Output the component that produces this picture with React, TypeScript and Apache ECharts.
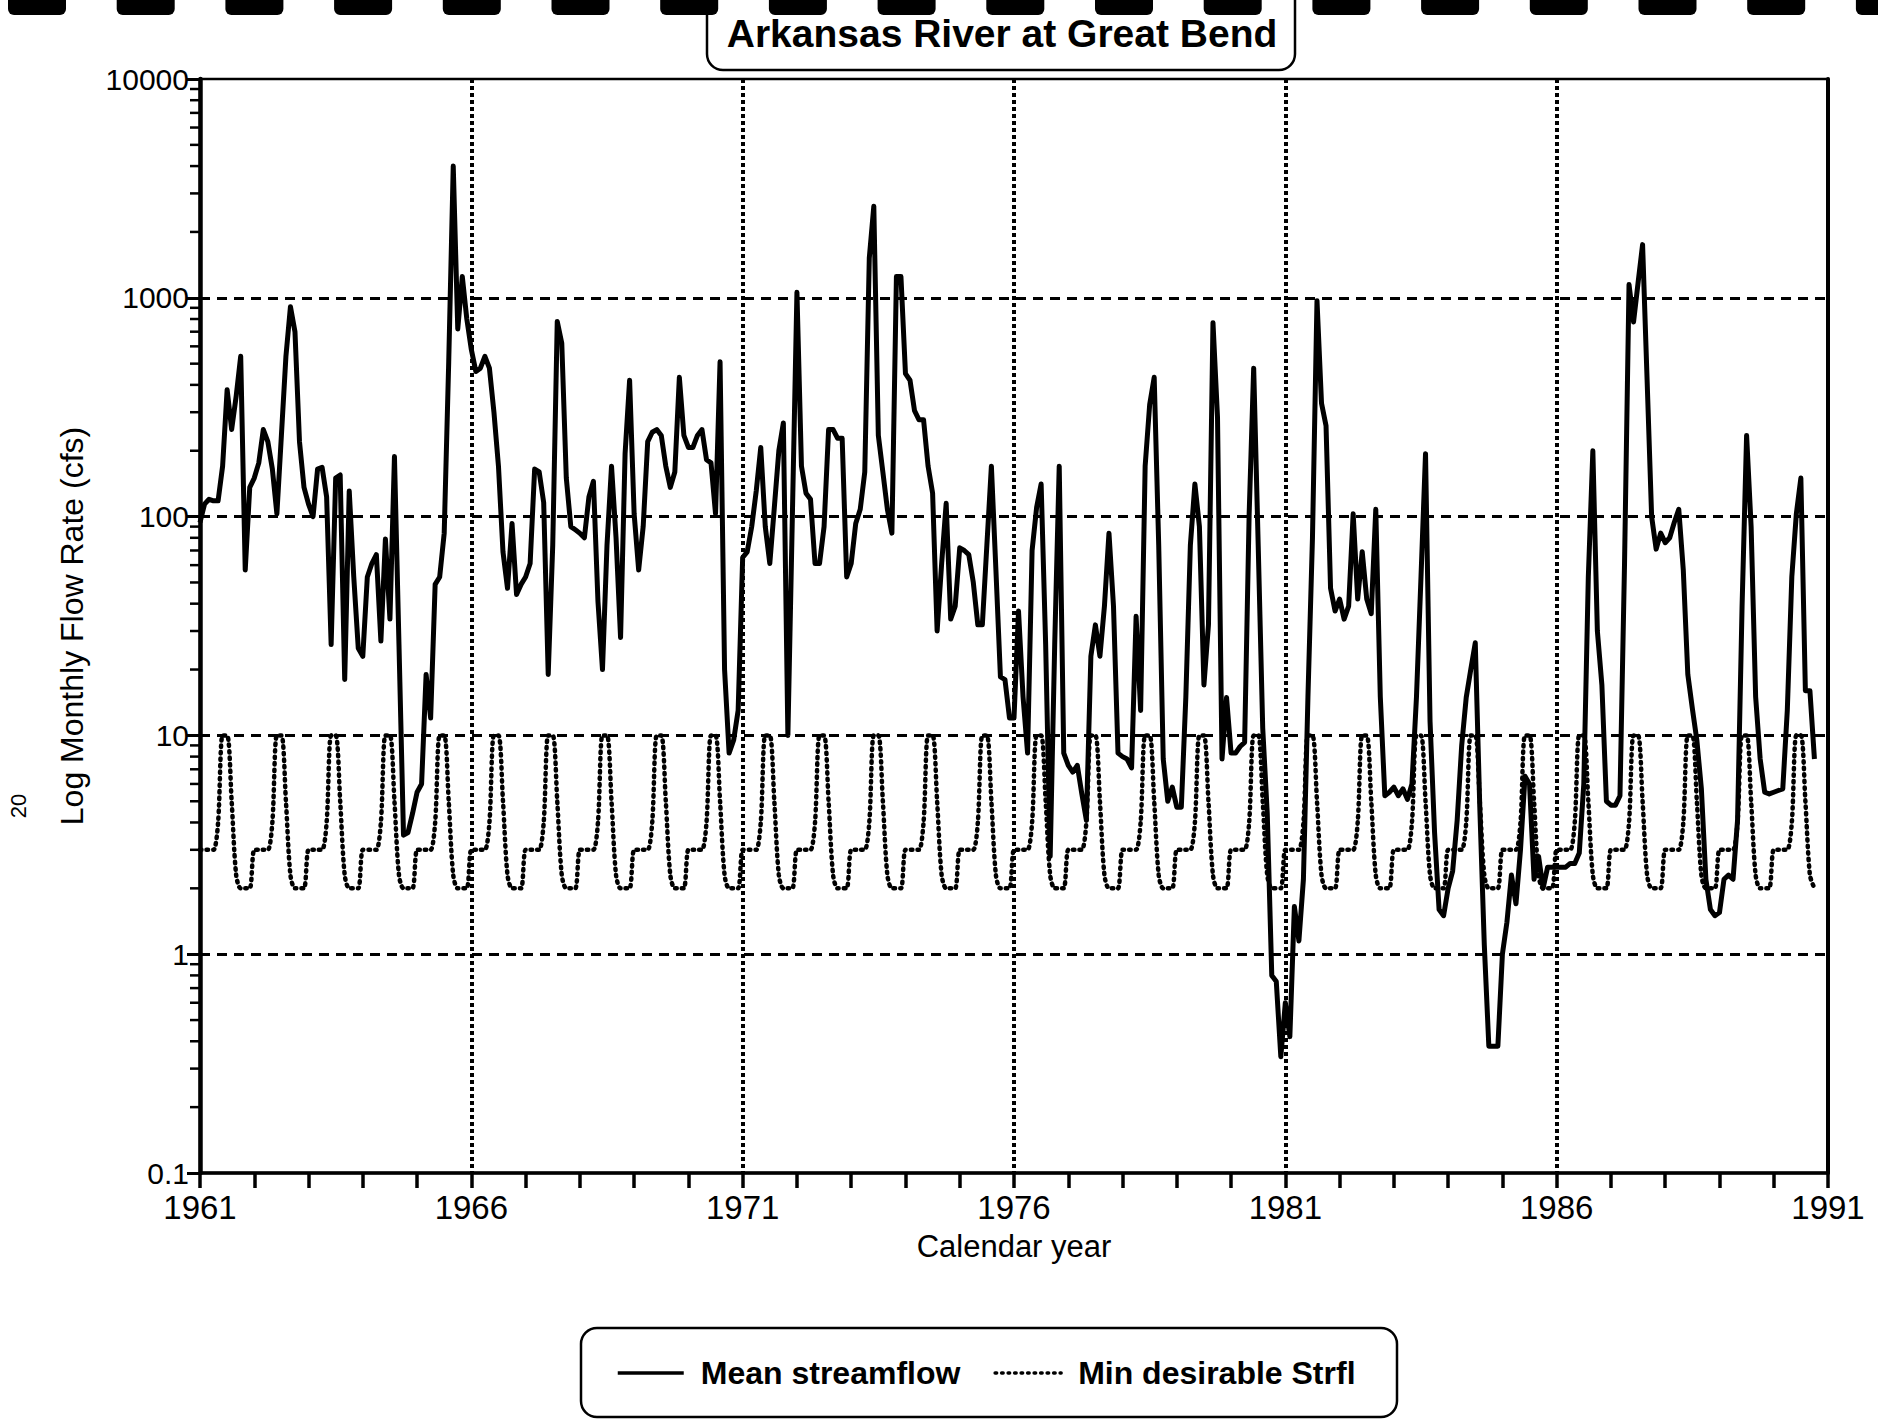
import React, { useEffect, useRef } from "react";
import * as echarts from "echarts";

// ---------- data (monthly mean streamflow, cfs), Jan 1961 .. Oct 1990 ----------
const START_YEAR = 1961;
const SPAN_YEARS = 30;

const flow1961to1965 = [
  94, 114, 120, 118, 118, 170, 380, 250, 355, 540, 57, 136,
  150, 176, 250, 220, 165, 103, 235, 540, 910, 700, 220, 136,
  114, 100, 165, 168, 123, 26, 150, 155, 18, 131, 53, 25,
  23, 53, 61, 67, 27, 79, 34, 188, 26, 3.5, 3.6, 4.4,
  5.5, 6, 19, 12, 49, 53, 84, 510, 4000, 720, 1250, 800,
];
const flow1966to1970 = [
  580, 460, 477, 540, 477, 300, 170, 69, 47, 93, 44, 49,
  53, 61, 165, 160, 116, 19, 74, 780, 620, 150, 90, 87,
  84, 80, 123, 145, 41, 20, 74, 170, 80, 28, 194, 420,
  103, 57, 90, 220, 243, 250, 235, 170, 136, 160, 433, 235,
  207, 207, 235, 250, 182, 176, 103, 510, 20, 8.3, 9.5, 13,
];
const flow1971to1975 = [
  65, 69, 90, 131, 207, 90, 61, 110, 200, 268, 10, 103,
  1060, 170, 128, 120, 61, 61, 90, 250, 250, 228, 228, 53,
  61, 93, 108, 160, 1520, 2620, 235, 160, 108, 84, 1250, 1250,
  450, 420, 305, 277, 277, 170, 128, 30, 61, 115, 34, 39,
  72, 70, 67, 50, 32, 32, 74, 170, 57, 18.5, 18, 12,
];
const flow1976to1980 = [
  12, 37, 15, 8.3, 70, 110, 141, 26, 2.8, 26, 170, 8.3,
  7.3, 6.8, 7.3, 5.4, 4.1, 23, 32, 23, 39, 84, 39, 8.3,
  8, 7.8, 7.1, 35, 13, 170, 325, 433, 74, 7.8, 5, 5.8,
  4.7, 4.7, 15, 74, 141, 90, 17, 32, 770, 285, 7.8, 14.9,
  8.3, 8.3, 8.9, 9.3, 103, 477, 74, 10.8, 4.4, 0.8, 0.75, 0.34,
];
const flow1981to1985 = [
  0.6, 0.42, 1.65, 1.15, 2.2, 15, 80, 970, 330, 260, 47, 37,
  42, 34, 39, 103, 42, 69, 42, 36, 108, 15, 5.3, 5.5,
  5.8, 5.3, 5.7, 5.1, 6, 15, 53, 194, 11.6, 3.6, 1.6, 1.5,
  2, 2.4, 4.1, 9, 14.9, 20, 26.5, 4.7, 1.1, 0.38, 0.38, 0.38,
  1, 1.4, 2.3, 1.7, 3, 6.5, 6, 2.2, 2.8, 2, 2.5, 2.5,
];
const flow1986to1990 = [
  2.5, 2.5, 2.5, 2.6, 2.6, 2.9, 6, 53, 200, 30, 17, 5,
  4.8, 4.8, 5.3, 60, 1150, 775, 1170, 1750, 420, 100, 71, 84,
  76, 80, 94, 108, 57, 19, 13.3, 9.5, 5.7, 2.2, 1.6, 1.5,
  1.55, 2.2, 2.3, 2.2, 4.1, 39, 235, 90, 15, 7.8, 5.5, 5.4,
  5.5, 5.6, 5.7, 13, 53, 103, 150, 16, 16, 7.8,
];

// minimum desirable streamflow, repeated each calendar month (Jan..Dec)
const minDesirableByMonth = [3, 3, 3, 3, 4, 10, 10, 5, 2.3, 2, 2, 2];

// log-axis decades and the minor tick multipliers inside each decade
const logDecades = [0.1, 1, 10, 100, 1000];
const logMinorMultipliers = [2, 3, 4, 5, 6, 7, 8, 9];

const seriesNames = ["Mean streamflow", "Min desirable Strfl"];

// ---------- derived ----------
const meanFlow = [
  ...flow1961to1965,
  ...flow1966to1970,
  ...flow1971to1975,
  ...flow1976to1980,
  ...flow1981to1985,
  ...flow1986to1990,
];
const meanData = meanFlow.map((v, i) => [i / 12, v]);
const minData = meanFlow.map((_, i) => [i / 12, minDesirableByMonth[i % 12]]);
const minorTickValues = logDecades.flatMap((d) =>
  logMinorMultipliers.map((m) => Number((m * d).toPrecision(3)))
);

const SANS = "'Liberation Sans', Arial, Helvetica, sans-serif";

export default function App() {
  const ref = useRef<HTMLDivElement>(null);

  useEffect(() => {
    if (!ref.current) return;
    const chart = echarts.init(ref.current, undefined, { renderer: "svg" });

    const bannerDashes = Array.from({ length: 18 }, (_, k) => ({
      type: "rect",
      shape: { x: 8 + 108.7 * k, y: -8, width: 58, height: 23, r: 6 },
      style: { fill: "#000" },
      z: 10,
    }));

    const option: any = {
      animation: false,
      backgroundColor: "#fff",
      grid: {
        left: 200,
        right: 50,
        top: 79,
        bottom: 247,
        show: true,
        borderColor: "#000",
        borderWidth: 2.5,
        backgroundColor: "transparent",
      },
      legend: {
        data: seriesNames,
        left: 611,
        top: 1352,
        itemWidth: 66,
        itemHeight: 24,
        itemGap: 33,
        selectedMode: false,
        itemStyle: { opacity: 0, borderWidth: 0 },
        lineStyle: { width: 3.5 },
        textStyle: {
          fontFamily: SANS,
          fontWeight: "bold",
          fontSize: 32,
          color: "#000",
          padding: [0, 0, 0, 12],
        },
      },
      xAxis: {
        type: "value",
        min: 0,
        max: SPAN_YEARS,
        interval: 5,
        name: "Calendar year",
        nameLocation: "middle",
        nameGap: 58,
        nameTextStyle: { fontFamily: SANS, fontSize: 31, color: "#000" },
        axisLine: { show: true, onZero: false, lineStyle: { color: "#000", width: 3.5 } },
        axisTick: { show: true, inside: false, length: 15, lineStyle: { color: "#000", width: 3.5 } },
        minorTick: { show: true, splitNumber: 5, length: 15, lineStyle: { color: "#000", width: 3.5 } },
        axisLabel: {
          formatter: (v: number) => String(START_YEAR + Math.round(v)),
          fontFamily: SANS,
          fontSize: 33,
          color: "#000",
          margin: 18,
          showMinLabel: true,
          showMaxLabel: true,
        },
        splitLine: {
          show: true,
          showMinLine: false,
          showMaxLine: false,
          lineStyle: { color: "#000", width: 4, type: [4, 3] },
        },
      },
      yAxis: [
        {
          type: "log",
          logBase: 10,
          min: 0.1,
          max: 10000,
          name: "Log Monthly Flow Rate (cfs)",
          nameLocation: "middle",
          nameGap: 112,
          nameTextStyle: { fontFamily: SANS, fontSize: 32, color: "#000" },
          axisLine: { show: true, lineStyle: { color: "#000", width: 4.5 } },
          axisTick: { show: true, length: 13, lineStyle: { color: "#000", width: 3 } },
          axisLabel: {
            fontFamily: SANS,
            fontSize: 30,
            color: "#000",
            margin: 11,
            formatter: (v: number) => (v < 1 ? String(Number(v.toFixed(1))) : String(Math.round(v))),
          },
          splitLine: {
            show: true,
            showMinLine: false,
            showMaxLine: false,
            lineStyle: { color: "#000", width: 3, type: [10, 7] },
          },
        },
        {
          type: "log",
          logBase: 10,
          min: 0.1,
          max: 10000,
          position: "right",
          axisLine: { show: true, lineStyle: { color: "#000", width: 4 } },
          axisTick: { show: false },
          axisLabel: { show: false },
          splitLine: { show: false },
        },
      ],
      series: [
        {
          type: "line",
          name: seriesNames[0],
          data: meanData,
          symbol: "none",
          showSymbol: false,
          itemStyle: { color: "#000" },
          lineStyle: { color: "#000", width: 5, join: "round" },
          z: 4,
        },
        {
          type: "line",
          name: seriesNames[1],
          data: minData,
          symbol: "none",
          showSymbol: false,
          smooth: 0.3,
          itemStyle: { color: "#000" },
          lineStyle: { color: "#000", width: 4.5, type: [1.5, 5], cap: "round" },
          z: 3,
        },
        {
          type: "custom",
          name: "yMinorTicks",
          silent: true,
          clip: false,
          z: 5,
          data: minorTickValues.map((v) => [0, v]),
          renderItem: (_params: any, api: any) => {
            const p = api.coord([0, api.value(1)]);
            return {
              type: "line",
              shape: { x1: p[0] - 10, y1: p[1], x2: p[0], y2: p[1] },
              style: { stroke: "#000", lineWidth: 2.5 },
            };
          },
        },
      ],
      graphic: [
        {
          type: "rect",
          shape: { x: 707, y: -30, width: 588, height: 100, r: 16 },
          style: { fill: "#fff", stroke: "#000", lineWidth: 2.5 },
          z: 9,
        },
        ...bannerDashes,
        {
          type: "text",
          x: 1002,
          y: 33,
          z: 11,
          style: {
            text: "Arkansas River at Great Bend",
            fontFamily: SANS,
            fontWeight: "bold",
            fontSize: 39,
            fill: "#000",
            textAlign: "center",
            textVerticalAlign: "middle",
            align: "center",
            verticalAlign: "middle",
          },
        },
        {
          type: "rect",
          shape: { x: 581, y: 1328, width: 816, height: 89, r: 16 },
          style: { fill: "none", stroke: "#000", lineWidth: 2.5 },
          z: 9,
        },
        {
          type: "text",
          x: 18,
          y: 806,
          rotation: Math.PI / 2,
          style: {
            text: "20",
            fontFamily: SANS,
            fontSize: 22,
            fill: "#000",
            textAlign: "center",
            textVerticalAlign: "middle",
            align: "center",
            verticalAlign: "middle",
          },
        },
      ],
    };

    chart.setOption(option);
    return () => chart.dispose();
  }, []);

  return (
    <div
      ref={ref}
      style={{ position: "absolute", left: 0, top: 0, width: 1878, height: 1420, background: "#fff" }}
    />
  );
}
